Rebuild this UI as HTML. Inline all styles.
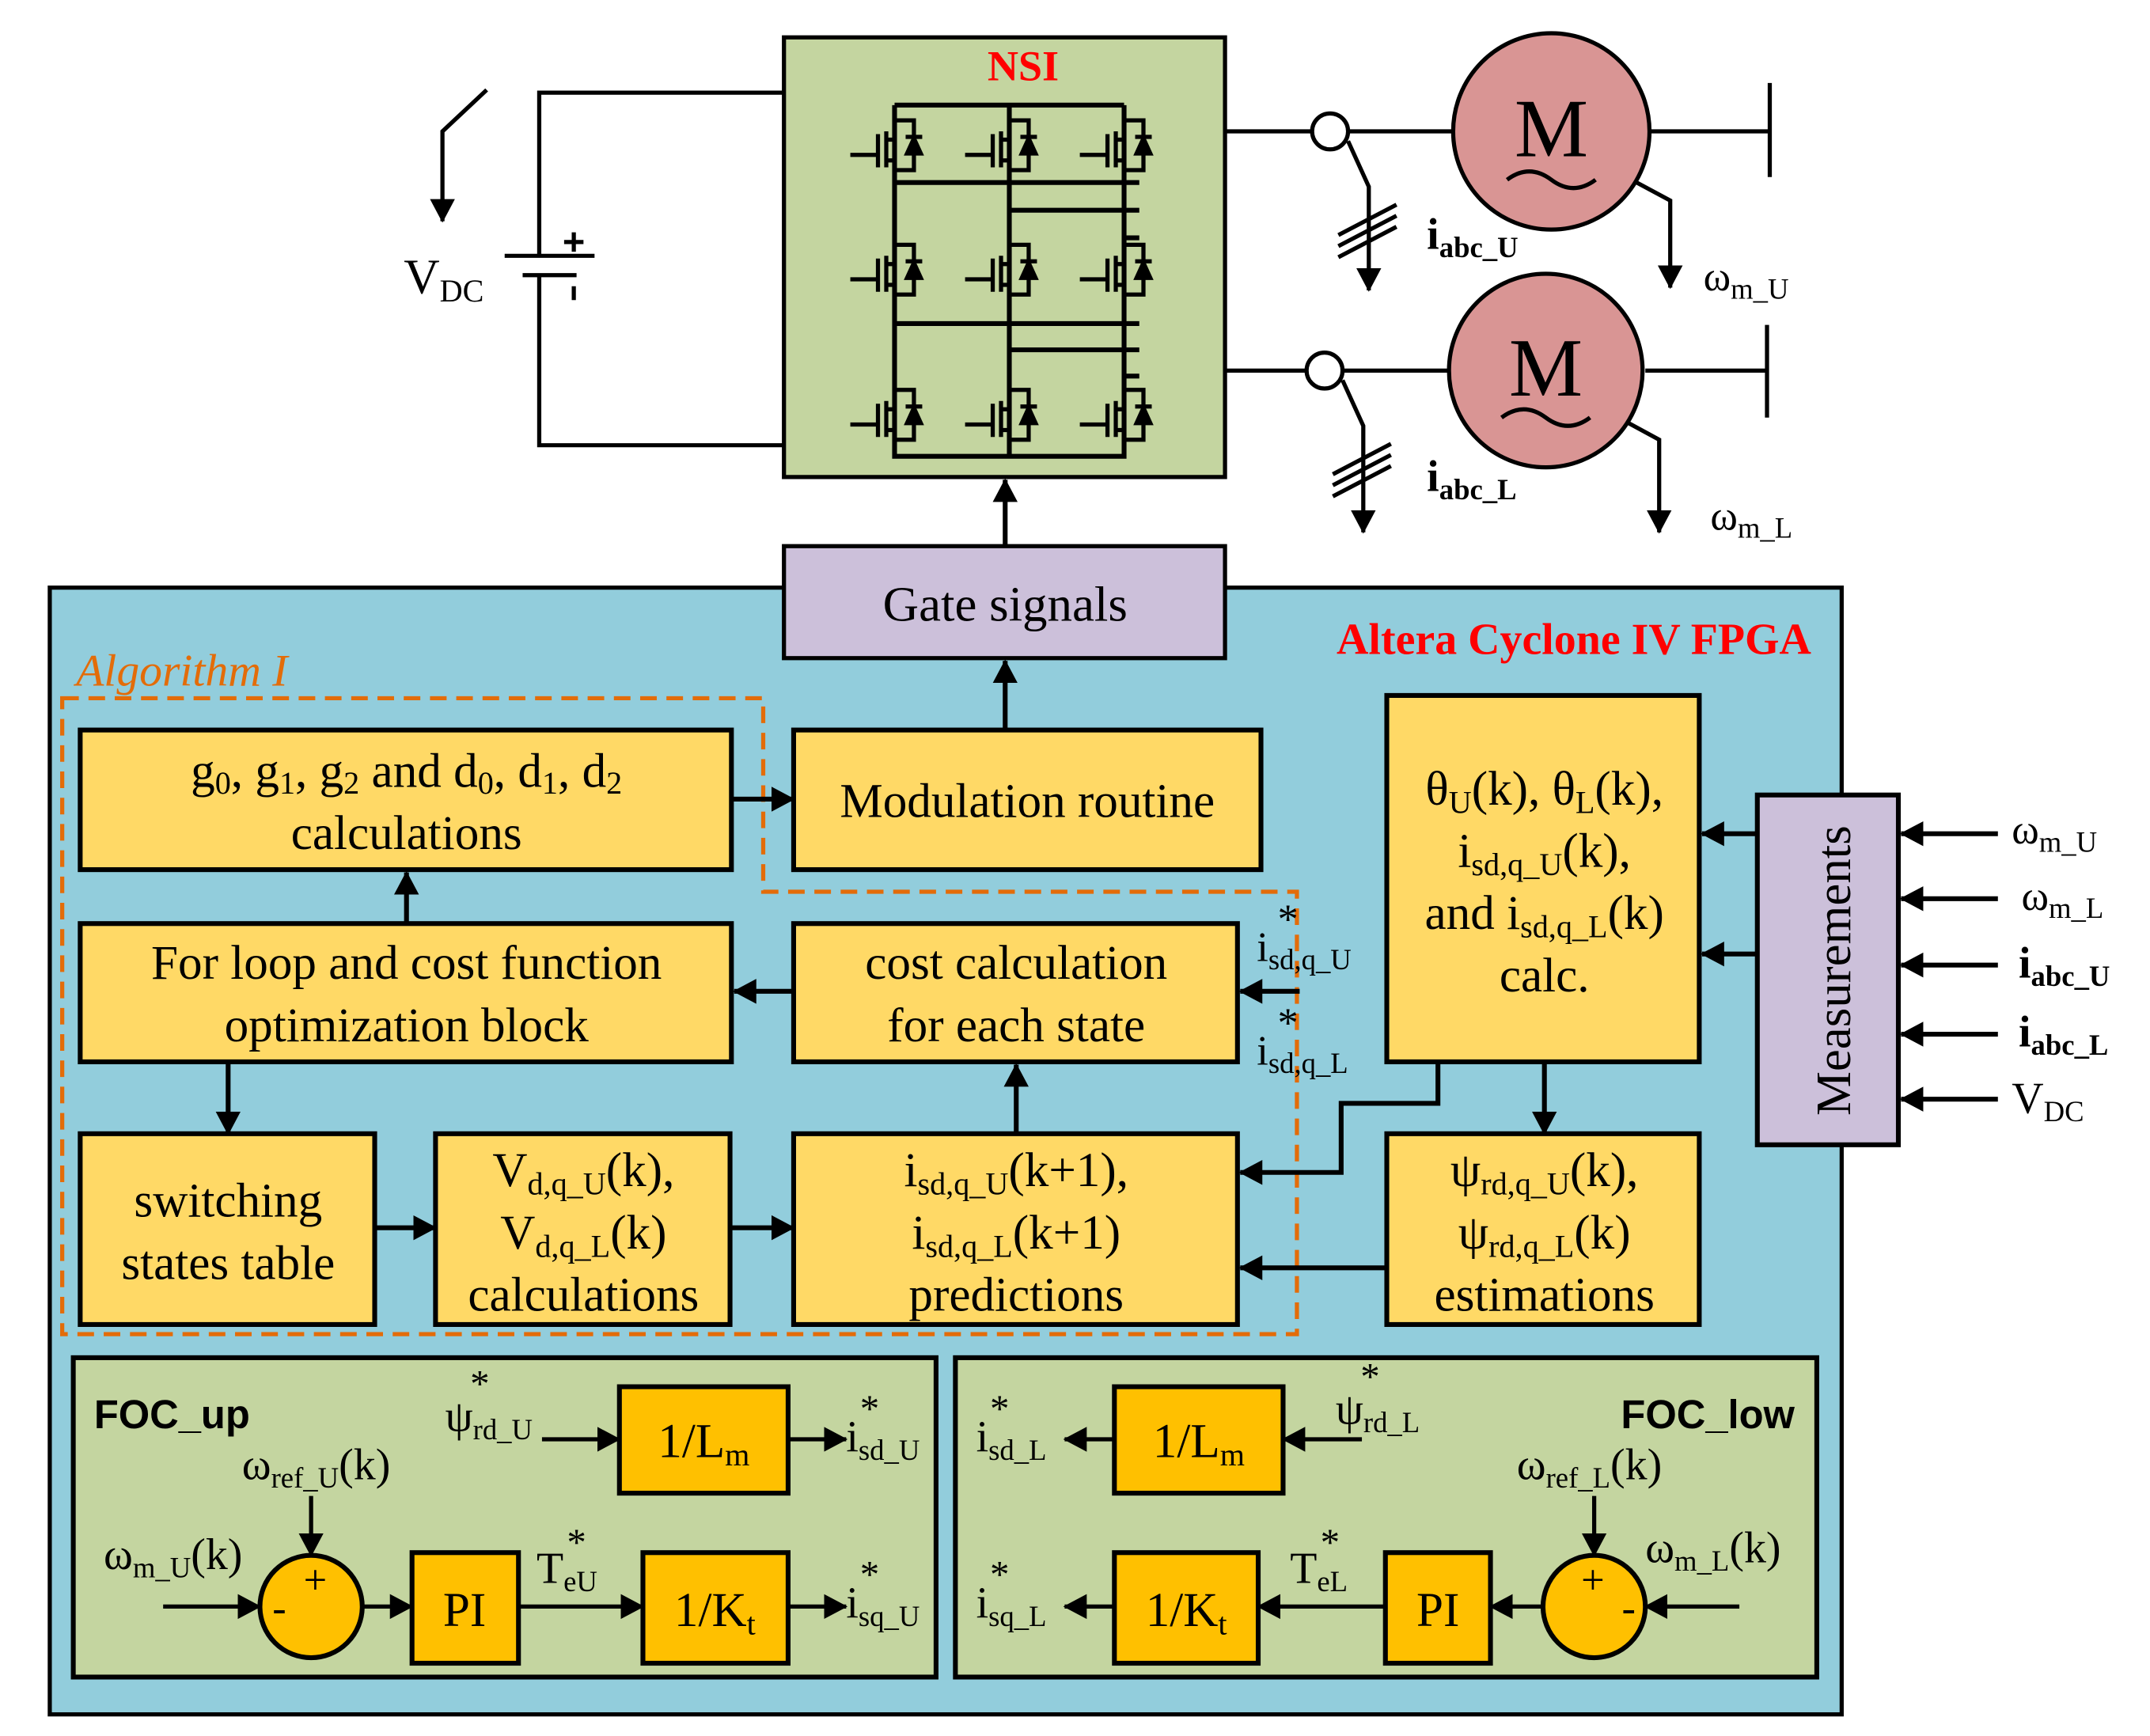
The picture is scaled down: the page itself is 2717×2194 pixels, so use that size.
<!DOCTYPE html>
<html><head><meta charset="utf-8"><style>
html,body{margin:0;padding:0;background:#fff}
svg{display:block}
text{font-family:"Liberation Serif",serif;fill:#000}
.b{font-family:"Liberation Sans",sans-serif;font-weight:bold}
</style></head><body>
<svg width="2717" height="2194" viewBox="0 0 1555 1255.6" xmlns="http://www.w3.org/2000/svg">
<defs>
<marker id="a" markerUnits="userSpaceOnUse" markerWidth="18" markerHeight="20" refX="16" refY="10" orient="auto"><path d="M0,1 L17,10 L0,19 Z" fill="#000"/></marker>
<g id="sw" stroke="#000" stroke-width="3" fill="none">
<path d="M-32,7 H-12 M-12,-8 V16 M-6,-10 V16 M-6,-4 H0 M-6,11 H0 M0,-18 H14 V18 H0"/>
<path d="M8,-6 H20 M14,-5 L9,6 H19 Z" fill="#000"/>
</g>
</defs>

<g stroke="#000" stroke-width="3" fill="none">
<path d="M352,65 L320,95 V160" marker-end="url(#a)"/>
<path d="M567,67 H390 V185 M365,185 H430 M378,199 H417 M390,199 V322 H567"/>
<path d="M408,175 H422 M415,168 V182 M415,207 V217"/>
</g>
<text x="292" y="212" font-size="36">V<tspan font-size="23" dy="6">DC</tspan></text>

<rect x="567" y="27" width="319" height="318" fill="#c4d5a0" stroke="#000" stroke-width="3"/>
<text x="740" y="58" font-size="31" font-weight="bold" text-anchor="middle" style="fill:#ff0000">NSI</text>
<g stroke="#000" stroke-width="3.5" fill="none">
<path d="M647,76 H813 M647,76 V330 H813 V76 M730,76 V330"/>
<path d="M647,132 H824 M730,152 H824 M813,172 H824 M647,234 H824 M730,253 H824 M813,272 H824"/>
</g>
<use href="#sw" x="647" y="105"/><use href="#sw" x="730" y="105"/><use href="#sw" x="813" y="105"/>
<use href="#sw" x="647" y="195"/><use href="#sw" x="730" y="195"/><use href="#sw" x="813" y="195"/>
<use href="#sw" x="647" y="300"/><use href="#sw" x="730" y="300"/><use href="#sw" x="813" y="300"/>

<g stroke="#000" stroke-width="3" fill="none">
<path d="M886,95 H1050 M1194,95 H1280 M1280,60 V128"/>
<path d="M975,102 L990,135 V210" marker-end="url(#a)"/>
<path d="M968,170 L1010,148 M968,178 L1010,156 M968,186 L1010,164"/>
<path d="M1180,130 L1208,145 V208" marker-end="url(#a)"/>
<path d="M886,268 H1048 M1190,268 H1278 M1278,235 V302"/>
<path d="M971,275 L986,308 V385" marker-end="url(#a)"/>
<path d="M964,343 L1006,321 M964,351 L1006,329 M964,359 L1006,337"/>
<path d="M1176,305 L1200,318 V385" marker-end="url(#a)"/>
</g>
<circle cx="962" cy="95" r="13" fill="#fff" stroke="#000" stroke-width="3"/>
<circle cx="958" cy="268" r="13" fill="#fff" stroke="#000" stroke-width="3"/>
<circle cx="1122" cy="95" r="71" fill="#d99594" stroke="#000" stroke-width="3"/>
<circle cx="1118" cy="268" r="70" fill="#d99594" stroke="#000" stroke-width="3"/>
<text x="1122" y="113" font-size="60" text-anchor="middle">M</text>
<text x="1118" y="286" font-size="60" text-anchor="middle">M</text>
<path d="M1090,130 q16,-12 32,0 t32,0" stroke="#000" stroke-width="3" fill="none"/>
<path d="M1086,302 q16,-12 32,0 t32,0" stroke="#000" stroke-width="3" fill="none"/>
<text x="1032" y="180" font-size="32" font-weight="bold">i<tspan font-size="21" dy="6">abc_U</tspan></text>
<text x="1032" y="355" font-size="32" font-weight="bold">i<tspan font-size="21" dy="6">abc_L</tspan></text>
<text x="1232" y="210" font-size="30">ω<tspan font-size="21" dy="6">m_U</tspan></text>
<text x="1237" y="383" font-size="30">ω<tspan font-size="21" dy="6">m_L</tspan></text>

<rect x="36" y="425" width="1296" height="815" fill="#92cddc" stroke="#000" stroke-width="3"/>
<path d="M727,395 V347" stroke="#000" stroke-width="3.5" marker-end="url(#a)"/>
<rect x="567" y="395" width="319" height="81" fill="#ccc0da" stroke="#000" stroke-width="3"/>
<text x="727" y="449" font-size="36" text-anchor="middle">Gate signals</text>
<text x="1310" y="473" font-size="32" font-weight="bold" text-anchor="end" style="fill:#ff0000">Altera Cyclone IV FPGA</text>
<text x="55" y="496" font-size="33" font-style="italic" style="fill:#e36c09">Algorithm I</text>
<path d="M45,505 H552 V645 H938 V965 H45 Z" fill="none" stroke="#e36c09" stroke-width="3" stroke-dasharray="12,7"/>

<g fill="#ffd966" stroke="#000" stroke-width="3.5">
<rect x="58" y="528" width="471" height="101"/>
<rect x="574" y="528" width="338" height="101"/>
<rect x="58" y="668" width="471" height="100"/>
<rect x="574" y="668" width="321" height="100"/>
<rect x="58" y="820" width="213" height="138"/>
<rect x="315" y="820" width="213" height="138"/>
<rect x="574" y="820" width="321" height="138"/>
<rect x="1003" y="503" width="226" height="265"/>
<rect x="1003" y="820" width="226" height="138"/>
</g>
<rect x="1271" y="575" width="102" height="253" fill="#ccc0da" stroke="#000" stroke-width="3.5"/>
<text transform="translate(1338,702) rotate(-90)" font-size="36" text-anchor="middle">Measurements</text>

<g font-size="35" text-anchor="middle">
<text x="294" y="569">g<tspan font-size="23" dy="5">0</tspan><tspan dy="-5">, g</tspan><tspan font-size="23" dy="5">1</tspan><tspan dy="-5">, g</tspan><tspan font-size="23" dy="5">2</tspan><tspan dy="-5">  and d</tspan><tspan font-size="23" dy="5">0</tspan><tspan dy="-5">, d</tspan><tspan font-size="23" dy="5">1</tspan><tspan dy="-5">, d</tspan><tspan font-size="23" dy="5">2</tspan></text>
<text x="294" y="614">calculations</text>
<text x="743" y="591">Modulation routine</text>
<text x="294" y="708">For loop and cost function</text>
<text x="294" y="753">optimization block</text>
<text x="735" y="708">cost calculation</text>
<text x="735" y="753">for each state</text>
<text x="165" y="880">switching</text>
<text x="165" y="925">states table</text>
<text x="422" y="858">V<tspan font-size="23" dy="6">d,q_U</tspan><tspan dy="-6">(k),</tspan></text>
<text x="422" y="903">V<tspan font-size="23" dy="6">d,q_L</tspan><tspan dy="-6">(k)</tspan></text>
<text x="422" y="948">calculations</text>
<text x="735" y="858">i<tspan font-size="23" dy="6">sd,q_U</tspan><tspan dy="-6">(k+1),</tspan></text>
<text x="735" y="903">i<tspan font-size="23" dy="6">sd,q_L</tspan><tspan dy="-6">(k+1)</tspan></text>
<text x="735" y="948">predictions</text>
<text x="1117" y="582">θ<tspan font-size="23" dy="6">U</tspan><tspan dy="-6">(k), θ</tspan><tspan font-size="23" dy="6">L</tspan><tspan dy="-6">(k),</tspan></text>
<text x="1117" y="627">i<tspan font-size="23" dy="6">sd,q_U</tspan><tspan dy="-6">(k),</tspan></text>
<text x="1117" y="672">and i<tspan font-size="23" dy="6">sd,q_L</tspan><tspan dy="-6">(k)</tspan></text>
<text x="1117" y="717">calc.</text>
<text x="1117" y="858">ψ<tspan font-size="23" dy="6">rd,q_U</tspan><tspan dy="-6">(k),</tspan></text>
<text x="1117" y="903">ψ<tspan font-size="23" dy="6">rd,q_L</tspan><tspan dy="-6">(k)</tspan></text>
<text x="1117" y="948">estimations</text>
</g>

<g stroke="#000" stroke-width="3.5" fill="none">
<path d="M727,528 V478" marker-end="url(#a)"/>
<path d="M529,578 H574" marker-end="url(#a)"/>
<path d="M294,668 V631" marker-end="url(#a)"/>
<path d="M574,717 H531" marker-end="url(#a)"/>
<path d="M165,768 V820" marker-end="url(#a)"/>
<path d="M271,888 H315" marker-end="url(#a)"/>
<path d="M528,888 H574" marker-end="url(#a)"/>
<path d="M735,820 V770" marker-end="url(#a)"/>
<path d="M940,717 H897" marker-end="url(#a)"/>
<path d="M1040,768 V798 H970 V848 H897" marker-end="url(#a)"/>
<path d="M1003,917 H897" marker-end="url(#a)"/>
<path d="M1117,768 V820" marker-end="url(#a)"/>
<path d="M1271,603 H1231" marker-end="url(#a)"/>
<path d="M1271,690 H1231" marker-end="url(#a)"/>
<path d="M1445,603 H1375" marker-end="url(#a)"/>
<path d="M1445,650 H1375" marker-end="url(#a)"/>
<path d="M1445,698 H1375" marker-end="url(#a)"/>
<path d="M1445,748 H1375" marker-end="url(#a)"/>
<path d="M1445,795 H1375" marker-end="url(#a)"/>
</g>
<text x="909" y="695" font-size="30">i<tspan font-size="21" dy="6">sd,q_U</tspan></text>
<text x="924" y="675" font-size="30">*</text>
<text x="909" y="770" font-size="30">i<tspan font-size="21" dy="6">sd,q_L</tspan></text>
<text x="924" y="750" font-size="30">*</text>
<text x="1455" y="610" font-size="30">ω<tspan font-size="21" dy="6">m_U</tspan></text>
<text x="1462" y="658" font-size="30">ω<tspan font-size="21" dy="6">m_L</tspan></text>
<text x="1460" y="707" font-size="32" font-weight="bold">i<tspan font-size="21" dy="6">abc_U</tspan></text>
<text x="1460" y="757" font-size="32" font-weight="bold">i<tspan font-size="21" dy="6">abc_L</tspan></text>
<text x="1455" y="805" font-size="32">V<tspan font-size="21" dy="6">DC</tspan></text>

<rect x="53" y="982" width="624" height="231" fill="#c4d5a0" stroke="#000" stroke-width="3.5"/>
<rect x="691" y="982" width="623" height="231" fill="#c4d5a0" stroke="#000" stroke-width="3.5"/>
<text x="68" y="1033" font-size="29" class="b">FOC_up</text>
<text x="1298" y="1033" font-size="29" class="b" text-anchor="end">FOC_low</text>
<g fill="#ffc000" stroke="#000" stroke-width="3.5">
<rect x="448" y="1003" width="122" height="77"/>
<rect x="298" y="1123" width="77" height="80"/>
<rect x="465" y="1123" width="105" height="80"/>
<circle cx="225" cy="1162" r="37"/>
<rect x="806" y="1003" width="122" height="77"/>
<rect x="1002" y="1123" width="76" height="80"/>
<rect x="806" y="1123" width="104" height="80"/>
<circle cx="1153" cy="1162" r="37"/>
</g>
<g stroke="#000" stroke-width="3" fill="none">
<path d="M392,1041 H448" marker-end="url(#a)"/>
<path d="M570,1041 H612" marker-end="url(#a)"/>
<path d="M225,1082 V1125" marker-end="url(#a)"/>
<path d="M118,1162 H188" marker-end="url(#a)"/>
<path d="M262,1162 H298" marker-end="url(#a)"/>
<path d="M375,1162 H465" marker-end="url(#a)"/>
<path d="M570,1162 H612" marker-end="url(#a)"/>
<path d="M985,1041 H928" marker-end="url(#a)"/>
<path d="M806,1041 H770" marker-end="url(#a)"/>
<path d="M1153,1082 V1125" marker-end="url(#a)"/>
<path d="M1258,1162 H1190" marker-end="url(#a)"/>
<path d="M1116,1162 H1078" marker-end="url(#a)"/>
<path d="M1002,1162 H910" marker-end="url(#a)"/>
<path d="M806,1162 H770" marker-end="url(#a)"/>
</g>
<g font-size="35" text-anchor="middle">
<text x="509" y="1054">1/L<tspan font-size="23" dy="6">m</tspan></text>
<text x="867" y="1054">1/L<tspan font-size="23" dy="6">m</tspan></text>
<text x="336" y="1176">PI</text>
<text x="1040" y="1176">PI</text>
<text x="517" y="1176">1/K<tspan font-size="23" dy="6">t</tspan></text>
<text x="858" y="1176">1/K<tspan font-size="23" dy="6">t</tspan></text>
<text x="228" y="1153" font-size="30">+</text>
<text x="202" y="1173" font-size="30">-</text>
<text x="1152" y="1153" font-size="30">+</text>
<text x="1178" y="1173" font-size="30">-</text>
</g>
<g font-size="32">
<text x="322" y="1035">ψ<tspan font-size="21" dy="6">rd_U</tspan></text>
<text x="340" y="1010" font-size="28">*</text>
<text x="612" y="1050">i<tspan font-size="21" dy="6">sd_U</tspan></text>
<text x="622" y="1028" font-size="28">*</text>
<text x="612" y="1170">i<tspan font-size="21" dy="6">sq_U</tspan></text>
<text x="622" y="1148" font-size="28">*</text>
<text x="175" y="1070">ω<tspan font-size="21" dy="6">ref_U</tspan><tspan dy="-6">(k)</tspan></text>
<text x="75" y="1135">ω<tspan font-size="21" dy="6">m_U</tspan><tspan dy="-6">(k)</tspan></text>
<text x="388" y="1145">T<tspan font-size="21" dy="6">eU</tspan></text>
<text x="410" y="1125" font-size="28">*</text>
<text x="706" y="1050">i<tspan font-size="21" dy="6">sd_L</tspan></text>
<text x="716" y="1028" font-size="28">*</text>
<text x="706" y="1170">i<tspan font-size="21" dy="6">sq_L</tspan></text>
<text x="716" y="1148" font-size="28">*</text>
<text x="966" y="1030">ψ<tspan font-size="21" dy="6">rd_L</tspan></text>
<text x="984" y="1005" font-size="28">*</text>
<text x="1097" y="1070">ω<tspan font-size="21" dy="6">ref_L</tspan><tspan dy="-6">(k)</tspan></text>
<text x="1190" y="1130">ω<tspan font-size="21" dy="6">m_L</tspan><tspan dy="-6">(k)</tspan></text>
<text x="933" y="1145">T<tspan font-size="21" dy="6">eL</tspan></text>
<text x="955" y="1125" font-size="28">*</text>
</g>
</svg>
</body></html>
